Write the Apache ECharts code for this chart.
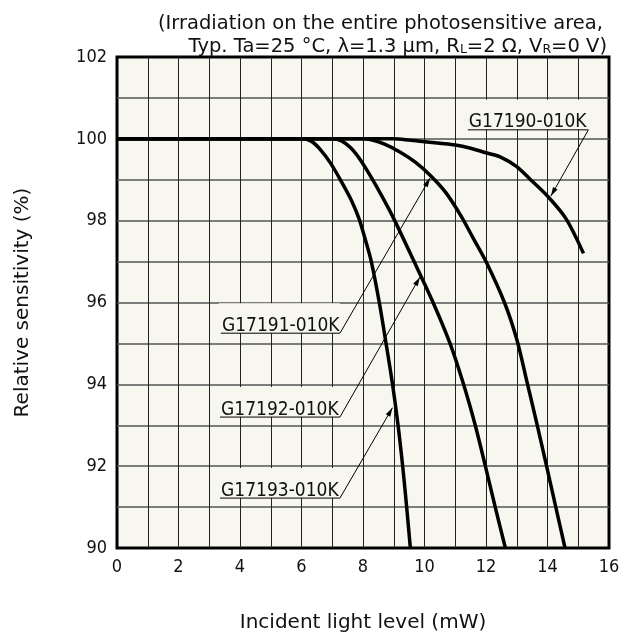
<!DOCTYPE html>
<html>
<head>
<meta charset="utf-8">
<script src="https://cdn.jsdelivr.net/npm/echarts@6/dist/echarts.min.js"></script>
<style>
  html, body { margin: 0; padding: 0; background: #fff; }
  #chart { width: 620px; height: 644px; }
</style>
</head>
<body>
<div id="chart"></div>
<script>
// readings: [incident light (mW), relative sensitivity (%)]
const g17193 = [[0, 100], [6.0, 100], [6.3, 99.95], [6.6, 99.75], [6.95, 99.4], [7.3, 98.95], [7.62, 98.5], [7.87, 98.05], [8.07, 97.55], [8.27, 97.0], [8.53, 96.0], [8.75, 95.0], [8.96, 94.0], [9.14, 93.0], [9.29, 92.0], [9.42, 91.0], [9.54, 90.0]];
const g17192 = [[0, 100], [7.0, 100], [7.3, 99.95], [7.6, 99.78], [7.9, 99.5], [8.25, 99.08], [8.65, 98.55], [9.0, 98.05], [9.6, 97.1], [10.25, 96.05], [10.83, 95.0], [11.27, 94.0], [11.65, 93.0], [11.98, 92.0], [12.3, 91.0], [12.63, 90.0]];
const g17191 = [[0, 100], [8.0, 100], [8.3, 99.97], [8.7, 99.87], [9.2, 99.68], [9.7, 99.43], [10.2, 99.1], [10.7, 98.68], [11.2, 98.1], [11.6, 97.55], [12.0, 97.0], [12.6, 96.0], [13.0, 95.1], [13.32, 94.1], [13.65, 93.05], [13.97, 92.0], [14.27, 91.0], [14.57, 90.0]];
const g17190 = [[0, 100], [9.0, 100], [9.5, 99.97], [10.0, 99.93], [10.5, 99.89], [11.0, 99.85], [11.5, 99.77], [12.0, 99.66], [12.46, 99.56], [13.0, 99.32], [13.45, 99.0], [14.0, 98.6], [14.6, 98.05], [15.17, 97.2]];

const seriesNames = ['G17193-010K', 'G17192-010K', 'G17191-010K', 'G17190-010K'];
const xTicks = [0, 2, 4, 6, 8, 10, 12, 14, 16];
const yTicks = [90, 92, 94, 96, 98, 100, 102];

// label boxes + leader lines, in data units: underline from x0 to x1 at y, arrow to tip
const leaders = [
  { name: 'G17191-010K', x0: 3.38, x1: 7.25, y: 95.25, tip: [10.18, 99.04] },
  { name: 'G17192-010K', x0: 3.35, x1: 7.25, y: 93.2, tip: [9.85, 96.62] },
  { name: 'G17193-010K', x0: 3.35, x1: 7.25, y: 91.22, tip: [8.96, 93.43] },
  { name: 'G17190-010K', x0: 11.41, x1: 15.33, y: 100.22, tip: [14.11, 98.6] }
];

const plotBg = '#f7f6ef';
const ink = '#111';
const condensed = '"DejaVu Sans Condensed", "DejaVu Sans", sans-serif';
const regular = '"DejaVu Sans", sans-serif';

const chart = echarts.init(document.getElementById('chart'));

function curve(name, data) {
  return {
    name: name,
    type: 'line',
    data: data,
    showSymbol: false,
    smooth: 0.3,
    lineStyle: { color: '#000', width: 3.5 },
    z: 3
  };
}

function renderLeader(params, api) {
  const l = leaders[api.value(2)];
  const a = api.coord([l.x0, l.y]);
  const b = api.coord([l.x1, l.y]);
  const t = api.coord(l.tip);
  const dx = t[0] - b[0], dy = t[1] - b[1];
  const len = Math.sqrt(dx * dx + dy * dy);
  const ux = dx / len, uy = dy / len;
  const nx = -uy, ny = ux;
  const head = 9, half = 2.6;
  return {
    type: 'group',
    children: [
      { type: 'rect', shape: { x: a[0] - 2, y: a[1] - 30, width: b[0] - a[0] + 2, height: 30 }, style: { fill: plotBg } },
      {
        type: 'text',
        style: {
          text: l.name, x: a[0] + 1, y: a[1] + 2,
          align: 'left', verticalAlign: 'bottom',
          font: '19px ' + condensed, fill: ink
        }
      },
      { type: 'polyline', shape: { points: [a, b, t] }, style: { stroke: '#000', lineWidth: 1, fill: null } },
      {
        type: 'polygon',
        shape: { points: [t, [t[0] - ux * head + nx * half, t[1] - uy * head + ny * half], [t[0] - ux * head - nx * half, t[1] - uy * head - ny * half]] },
        style: { fill: '#000' }
      }
    ]
  };
}

const noteStyle = {
  fontFamily: regular,
  fontSize: 19.5,
  fontWeight: 'normal',
  color: ink,
  rich: {
    s: { fontFamily: regular, fontSize: 12.5, color: ink, padding: [6, 0, 0, 0] }
  }
};

chart.setOption({
  animation: false,
  backgroundColor: '#fff',
  title: [
    { text: '(Irradiation on the entire photosensitive area,', right: 12, top: 9, textStyle: noteStyle },
    { text: 'Typ. Ta=25 °C, λ=1.3 μm, R{s|L}=2 Ω, V{s|R}=0 V)', right: 8, top: 32, textStyle: noteStyle }
  ],
  grid: {
    left: 117, right: 11, top: 57, bottom: 96,
    outerBoundsMode: 'none',
    show: true, backgroundColor: plotBg, borderColor: '#000', borderWidth: 3
  },
  xAxis: {
    type: 'value',
    min: 0, max: 16, interval: 1,
    name: 'Incident light level (mW)',
    nameLocation: 'middle',
    nameGap: 65,
    nameTextStyle: { fontFamily: regular, fontSize: 20, color: ink },
    axisLine: { show: false },
    axisTick: { show: false },
    axisLabel: {
      margin: 10,
      fontFamily: condensed, fontSize: 18, color: ink,
      formatter: (v) => (xTicks.indexOf(v) >= 0 ? String(v) : '')
    },
    splitLine: { show: true, showMinLine: false, showMaxLine: false, lineStyle: { color: '#222', width: 1 } }
  },
  yAxis: {
    type: 'value',
    min: 90, max: 102, interval: 1,
    name: 'Relative sensitivity (%)',
    nameLocation: 'middle',
    nameGap: 84,
    nameRotate: 90,
    nameTextStyle: { fontFamily: regular, fontSize: 20, color: ink },
    axisLine: { show: false },
    axisTick: { show: false },
    axisLabel: {
      margin: 10,
      fontFamily: condensed, fontSize: 18, color: ink,
      formatter: (v) => (yTicks.indexOf(v) >= 0 ? String(v) : '')
    },
    splitLine: { show: true, showMinLine: false, showMaxLine: false, lineStyle: { color: '#555', width: 1.5 } }
  },
  series: [
    curve(seriesNames[0], g17193),
    curve(seriesNames[1], g17192),
    curve(seriesNames[2], g17191),
    curve(seriesNames[3], g17190),
    {
      name: 'labels',
      type: 'custom',
      coordinateSystem: 'cartesian2d',
      clip: false,
      silent: true,
      z: 4,
      data: leaders.map((l, i) => [l.tip[0], l.tip[1], i]),
      renderItem: renderLeader
    }
  ]
});
</script>
</body>
</html>
